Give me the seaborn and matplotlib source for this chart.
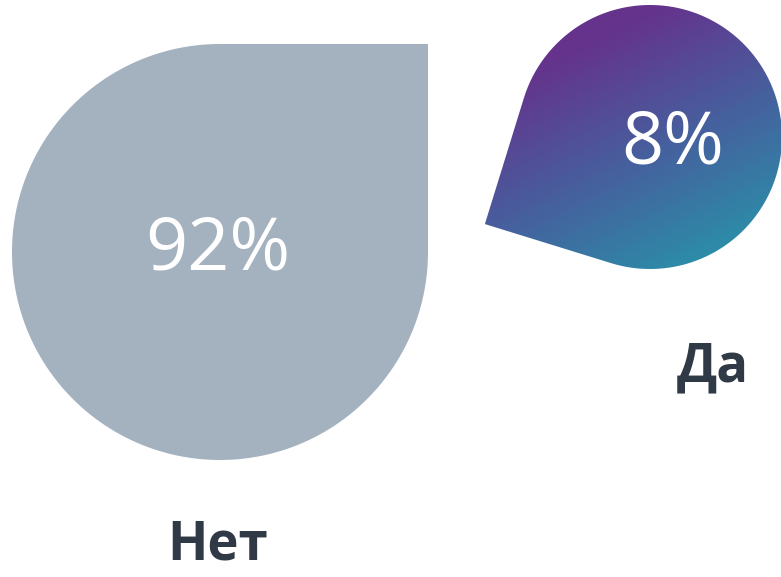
import numpy as np
import matplotlib
matplotlib.use("Agg")
import matplotlib.pyplot as plt
import seaborn as sns
from matplotlib.path import Path
from matplotlib.patches import PathPatch
from matplotlib.colors import LinearSegmentedColormap

sns.set_theme(style="white")
plt.rcParams['font.family'] = ['Open Sans', 'DejaVu Sans']

categories = ["Нет", "Да"]
shares = [92, 8]

# layout of the two drops (canvas units, y up)
centers = [(220, 325), (650, 440)]
radii = [208, 132]
corner_angles = [45, 207.8]
label_pos = [(218, 31), (713, 210)]
grey = "#a4b1be"
text_dark = "#2f3a46"
grad_cmap = LinearSegmentedColormap.from_list("drop", ["#65338c", "#46609e", "#2a90a9"])


def drop_path(cx, cy, r, corner_deg):
    a0 = np.deg2rad(corner_deg + 45)
    a1 = np.deg2rad(corner_deg + 315)
    t = np.linspace(a0, a1, 200)
    xs = cx + r * np.cos(t)
    ys = cy + r * np.sin(t)
    ca = np.deg2rad(corner_deg)
    corner = (cx + r * np.sqrt(2) * np.cos(ca), cy + r * np.sqrt(2) * np.sin(ca))
    verts = list(zip(xs, ys)) + [corner, (xs[0], ys[0])]
    codes = [Path.MOVETO] + [Path.LINETO] * (len(verts) - 2) + [Path.CLOSEPOLY]
    return Path(verts, codes)


fig = plt.figure(figsize=(7.81, 5.77), dpi=100)
ax = fig.add_axes([0, 0, 1, 1])
ax.set_xlim(0, 781)
ax.set_ylim(0, 577)
ax.set_aspect("equal")
ax.axis("off")

for i, (cat, val) in enumerate(zip(categories, shares)):
    cx, cy = centers[i]
    r = radii[i]
    path = drop_path(cx, cy, r, corner_angles[i])
    if i == 0:
        patch = PathPatch(path, facecolor=grey, edgecolor="none")
        ax.add_patch(patch)
        ax.text(cx - 2, cy + 1, f"{val}%", color="white", fontsize=53,
                ha="center", va="center")
    else:
        patch = PathPatch(path, facecolor="none", edgecolor="none")
        ax.add_patch(patch)
        x0, x1 = cx - 1.5 * r, cx + 1.1 * r
        y0, y1 = cy - 1.1 * r, cy + 1.1 * r
        gx, gy = np.meshgrid(np.linspace(x0, x1, 300), np.linspace(y0, y1, 300))
        d = np.array([0.45, -0.89])
        proj = gx * d[0] + gy * d[1]
        p0 = (cx - 50) * d[0] + (cy + 100) * d[1]
        p1 = (cx + 80) * d[0] + (cy - 120) * d[1]
        tt = np.clip((proj - p0) / (p1 - p0), 0, 1)
        im = ax.imshow(tt, extent=[x0, x1, y0, y1], origin="lower",
                       cmap=grad_cmap, vmin=0, vmax=1, interpolation="bilinear",
                       zorder=1)
        im.set_clip_path(patch)
        ax.text(cx + 23, cy - 8, f"{val}%", color="white", fontsize=53,
                ha="center", va="center", zorder=3)
    lx, ly = label_pos[i]
    ax.text(lx, ly, cat, color=text_dark, fontsize=38, fontweight="bold",
            ha="center", va="center")

ax.set_xlim(0, 781)
ax.set_ylim(0, 577)
fig.savefig("out.png", dpi=100)
